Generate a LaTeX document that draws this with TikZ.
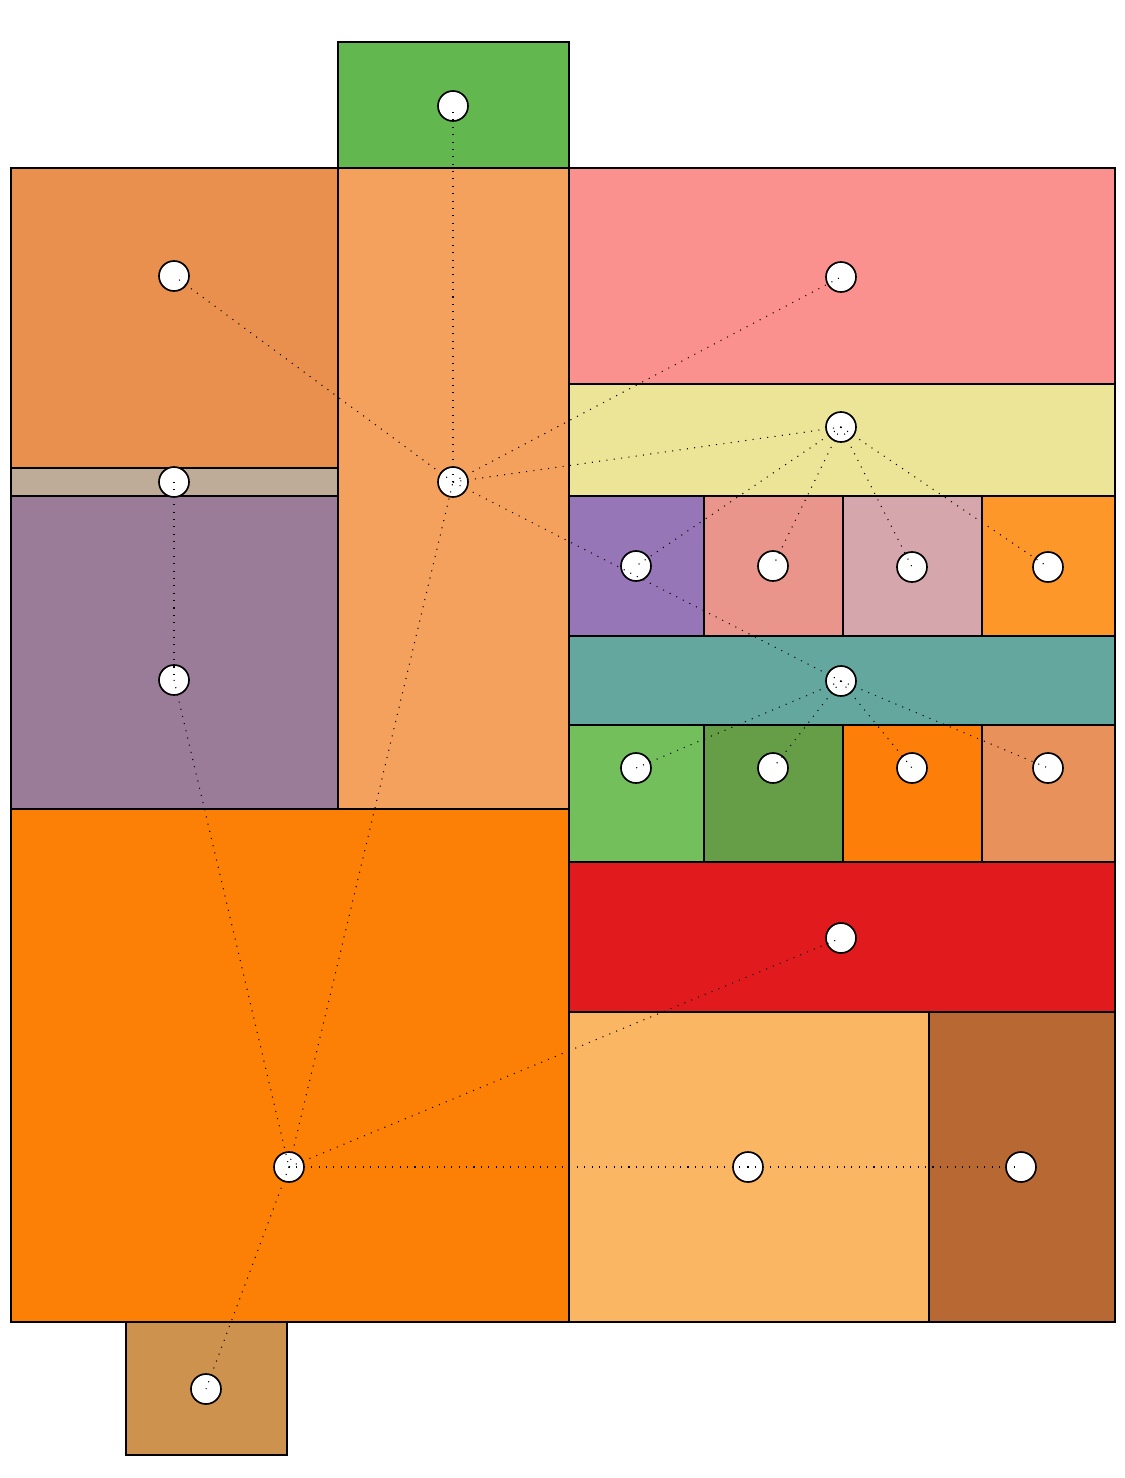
\documentclass[tikz,border=0pt]{standalone}
\begin{document}
\begin{tikzpicture}[x=0.02cm,y=-0.02cm,
  room/.style={draw=black,line width=0.85pt},
  dot/.style={circle,draw=black,fill=white,line width=0.95pt,minimum size=0.6cm,inner sep=0pt},
  link/.style={line width=0.6pt,dash pattern=on 0.6pt off 3.6pt,black}]
\useasboundingbox (0,0) rectangle (1125,1478);
\definecolor{cA}{HTML}{63B74F}
\definecolor{cB}{HTML}{E9904F}
\definecolor{cC}{HTML}{F5A15E}
\definecolor{cD}{HTML}{FB918F}
\definecolor{cE}{HTML}{ECE598}
\definecolor{cF}{HTML}{9776B7}
\definecolor{cG}{HTML}{EA958B}
\definecolor{cH}{HTML}{D5A6AB}
\definecolor{cI}{HTML}{FD9729}
\definecolor{cJ}{HTML}{63A79E}
\definecolor{cK}{HTML}{73BF5B}
\definecolor{cL}{HTML}{659E47}
\definecolor{cM}{HTML}{FD7F0A}
\definecolor{cN}{HTML}{E9915A}
\definecolor{cO}{HTML}{E11B1D}
\definecolor{cP}{HTML}{FBB663}
\definecolor{cQ}{HTML}{B86832}
\definecolor{cR}{HTML}{BEAB98}
\definecolor{cS}{HTML}{9A7C98}
\definecolor{cT}{HTML}{FC7F06}
\definecolor{cU}{HTML}{CD924D}
% rooms
\filldraw[room,fill=cA] (338,42) rectangle (569,168);
\filldraw[room,fill=cB] (11,168) rectangle (338,468);
\filldraw[room,fill=cC] (338,168) rectangle (569,809);
\filldraw[room,fill=cD] (569,168) rectangle (1115,384);
\filldraw[room,fill=cE] (569,384) rectangle (1115,496);
\filldraw[room,fill=cF] (569,496) rectangle (704,636);
\filldraw[room,fill=cG] (704,496) rectangle (843,636);
\filldraw[room,fill=cH] (843,496) rectangle (982,636);
\filldraw[room,fill=cI] (982,496) rectangle (1115,636);
\filldraw[room,fill=cJ] (569,636) rectangle (1115,725);
\filldraw[room,fill=cK] (569,725) rectangle (704,862);
\filldraw[room,fill=cL] (704,725) rectangle (843,862);
\filldraw[room,fill=cM] (843,725) rectangle (982,862);
\filldraw[room,fill=cN] (982,725) rectangle (1115,862);
\filldraw[room,fill=cO] (569,862) rectangle (1115,1012);
\filldraw[room,fill=cP] (569,1012) rectangle (929,1322);
\filldraw[room,fill=cQ] (929,1012) rectangle (1115,1322);
\filldraw[room,fill=cR] (11,468) rectangle (338,496);
\filldraw[room,fill=cS] (11,496) rectangle (338,809);
\filldraw[room,fill=cT] (11,809) rectangle (569,1322);
\filldraw[room,fill=cU] (126,1322) rectangle (287,1455);
% nodes
\node[dot] (gt) at (453,106) {};
\node[dot] (lo) at (174,276) {};
\node[dot] (ta) at (453,482) {};
\node[dot] (pk) at (841,277) {};
\node[dot] (ye) at (841,427) {};
\node[dot] (be) at (174,482) {};
\node[dot] (ma) at (174,680) {};
\node[dot] (pu) at (636,566) {};
\node[dot] (sa) at (773,566) {};
\node[dot] (pi) at (912,567) {};
\node[dot] (or) at (1048,567) {};
\node[dot] (te) at (841,681) {};
\node[dot] (g1) at (636,768) {};
\node[dot] (g2) at (773,768) {};
\node[dot] (g3) at (912,768) {};
\node[dot] (g4) at (1048,768) {};
\node[dot] (rd) at (841,938) {};
\node[dot] (bo) at (289,1167) {};
\node[dot] (lt) at (748,1167) {};
\node[dot] (br) at (1021,1167) {};
\node[dot] (tn) at (206,1389) {};
% links
\foreach \a/\b in {ta/gt,ta/lo,ta/pk,ta/ye,ta/te,ye/pu,ye/sa,ye/pi,ye/or,te/g1,te/g2,te/g3,te/g4,be/ma,ma/bo,bo/ta,bo/rd,bo/lt,lt/br,bo/tn}
  \draw[link] (\a.center) -- (\b.center);
\end{tikzpicture}
\end{document}
